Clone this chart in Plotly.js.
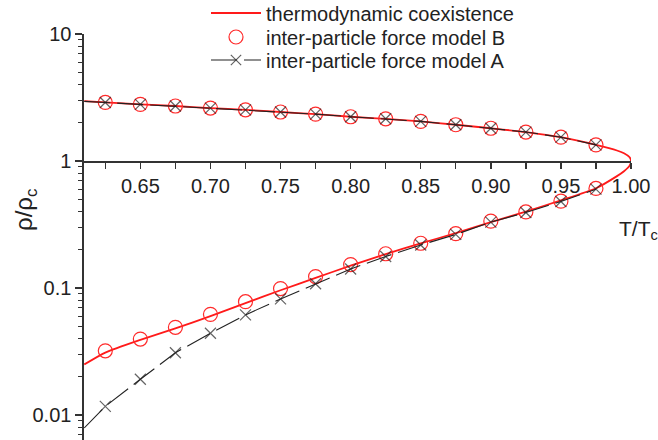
<!DOCTYPE html>
<html>
<head>
<meta charset="utf-8">
<script src="https://cdn.plot.ly/plotly-3.0.1.min.js"></script>
<style>html,body{margin:0;padding:0;background:#fff;}#chart{width:658px;height:440px;}</style>
</head>
<body>
<div id="chart"></div>
<script>
// Reduced temperature at marker points
var tMarkers = [0.625, 0.65, 0.675, 0.70, 0.725, 0.75, 0.775, 0.80, 0.825, 0.85, 0.875, 0.90, 0.925, 0.95, 0.975];
// Model B (circles)
var modelBLiquid = [2.89, 2.79, 2.71, 2.61, 2.53, 2.43, 2.34, 2.23, 2.15, 2.05, 1.93, 1.81, 1.69, 1.54, 1.34];
var modelBVapor  = [0.032, 0.0396, 0.049, 0.062, 0.078, 0.099, 0.123, 0.153, 0.186, 0.225, 0.268, 0.336, 0.397, 0.483, 0.608];
// Model A (crosses)
var modelALiquid = [2.89, 2.79, 2.71, 2.61, 2.53, 2.43, 2.34, 2.23, 2.15, 2.05, 1.93, 1.81, 1.69, 1.54, 1.34];
var modelAVapor  = [0.0117, 0.0191, 0.0309, 0.044, 0.0614, 0.082, 0.108, 0.141, 0.177, 0.218, 0.264, 0.33, 0.393, 0.48, 0.60];
// Model A line end values at the left edge of the axis
var tLeftEdge = 0.61;
var modelALiquidEdge = 2.95;
var modelAVaporEdge = 0.0079;
// Thermodynamic coexistence curve
var tCurveLiquid = [0.61, 0.625, 0.65, 0.675, 0.70, 0.725, 0.75, 0.775, 0.80, 0.825, 0.85, 0.875, 0.90, 0.925, 0.95, 0.975, 0.99, 0.995, 0.999, 1.0];
var rhoCurveLiquid = [2.96, 2.89, 2.79, 2.71, 2.61, 2.53, 2.43, 2.34, 2.23, 2.15, 2.05, 1.93, 1.81, 1.69, 1.54, 1.34, 1.21, 1.15, 1.07, 1.0];
var tCurveVapor = [0.999, 0.995, 0.99, 0.975, 0.95, 0.925, 0.90, 0.875, 0.85, 0.825, 0.80, 0.775, 0.75, 0.725, 0.70, 0.675, 0.65, 0.625, 0.61];
var rhoCurveVapor = [0.92, 0.83, 0.76, 0.61, 0.49, 0.40, 0.33, 0.27, 0.225, 0.185, 0.15, 0.12, 0.096, 0.076, 0.060, 0.048, 0.039, 0.031, 0.025];
var xTickVals = [0.65, 0.70, 0.75, 0.80, 0.85, 0.90, 0.95, 1.00];
var yTickVals = [0.01, 0.1, 1, 10];
var yTickText = ['0.01', '0.1', '1', '10'];
var names = ['thermodynamic coexistence', 'inter-particle force model B', 'inter-particle force model A'];

var FONT = 'Liberation Sans, Arial, sans-serif';
var TXT = '#222';
var H = 440, PT = 34, PH = 406, PL = 84, PW = 547;
function py(p) { return (H - p) / PH; }
function px(p) { return (p - PL) / PW; }

var curveX = tCurveLiquid.concat(tCurveVapor);
var curveY = rhoCurveLiquid.concat(rhoCurveVapor);

var aX = [tLeftEdge].concat(tMarkers, [null], [tLeftEdge], tMarkers);
var aY = [modelALiquidEdge].concat(modelALiquid, [null], [modelAVaporEdge], modelAVapor);
var aSizes = aX.map(function (v, i) { return (i === 0 || i === tMarkers.length + 2) ? 0 : 11; });

var traces = [
  {
    x: curveX, y: curveY, mode: 'lines', name: names[0], legend: 'legend',
    line: {color: '#ff1a1a', width: 1.8, shape: 'spline', smoothing: 0.6},
    cliponaxis: false
  },
  {
    x: tMarkers.concat([null], tMarkers), y: modelBLiquid.concat([null], modelBVapor),
    mode: 'markers', name: names[1], legend: 'legend2',
    marker: {symbol: 'circle-open', size: 14, color: '#ff2a2a', line: {width: 1.2, color: '#ff2a2a'}}
  },
  {
    x: aX, y: aY, mode: 'lines+markers', name: names[2], connectgaps: false, legend: 'legend3',
    line: {color: '#222', width: 1.1, dash: '26px,7px'},
    marker: {symbol: 'x-thin-open', size: aSizes, color: '#222', line: {width: 1.2, color: '#222'}}
  }
];

function legendAt(centerPix) {
  return {
    x: px(206), xanchor: 'left', y: py(centerPix), yanchor: 'middle',
    bgcolor: 'rgba(0,0,0,0)', borderwidth: 0,
    font: {family: FONT, size: 20, color: TXT},
    itemwidth: 50
  };
}

var yMin = -2.197, yMax = 1;
var layout = {
  width: 658, height: 440,
  margin: {l: 84, r: 27, t: 34, b: 0, pad: 0, autoexpand: false},
  paper_bgcolor: '#fff', plot_bgcolor: '#fff',
  font: {family: FONT, size: 20, color: TXT},
  showlegend: true,
  legend: legendAt(13),
  legend2: legendAt(37),
  legend3: legendAt(60),
  xaxis: {
    range: [0.6098, 1.0], anchor: 'free', position: (0 - yMin) / (yMax - yMin),
    showline: true, linecolor: '#333', linewidth: 1.6,
    ticks: 'outside', ticklen: 6, tickwidth: 1.4, tickcolor: '#333',
    tickmode: 'array', tickvals: xTickVals, tickformat: '.2f',
    minor: {dtick: 0.025, tick0: 0.6, ticks: 'outside', ticklen: 6, tickwidth: 1.4, tickcolor: '#333', showgrid: false},
    showgrid: false, zeroline: false, automargin: false,
    tickfont: {family: FONT, size: 20, color: TXT}
  },
  yaxis: {
    type: 'log', range: [yMin, yMax],
    showline: true, linecolor: '#333', linewidth: 1.6,
    ticks: 'outside', ticklen: 7, tickwidth: 1.4, tickcolor: '#333',
    tickmode: 'array', tickvals: yTickVals, ticktext: yTickText,
    minor: {dtick: 'D1', ticks: 'outside', ticklen: 4, tickwidth: 1.2, tickcolor: '#333', showgrid: false},
    showgrid: false, zeroline: false, automargin: false,
    tickfont: {family: FONT, size: 20, color: TXT}
  },
  annotations: [
    {
      text: 'ρ/ρ<sub>c</sub>', xref: 'paper', yref: 'paper',
      x: px(25), y: py(210), xanchor: 'center', yanchor: 'middle',
      textangle: -90, showarrow: false, font: {family: FONT, size: 24, color: TXT}
    },
    {
      text: 'T/T<sub>c</sub>', xref: 'paper', yref: 'paper',
      x: px(617), y: py(230), xanchor: 'left', yanchor: 'middle',
      showarrow: false, font: {family: FONT, size: 21, color: TXT}
    }
  ]
};

Plotly.newPlot('chart', traces, layout, {displayModeBar: false, staticPlot: true});
</script>
</body>
</html>
